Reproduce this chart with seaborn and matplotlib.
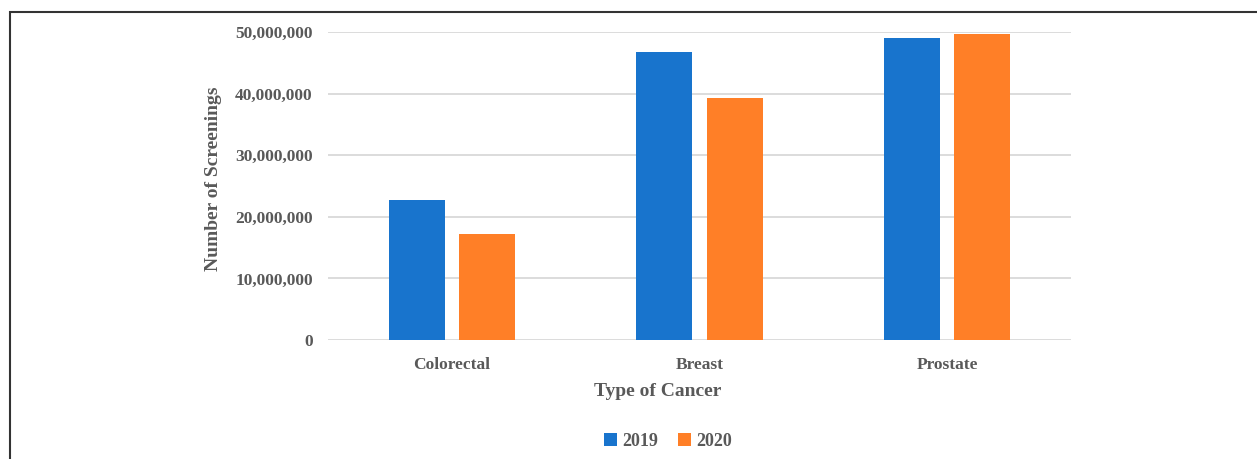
import matplotlib
matplotlib.use("Agg")
import matplotlib.pyplot as plt
import matplotlib.patches as mpatches
import seaborn as sns
import pandas as pd
from matplotlib.ticker import FuncFormatter

categories = ["Colorectal", "Breast", "Prostate"]
years = ["2019", "2020"]
values_2019 = [22.7e6, 46.75e6, 49.0e6]
values_2020 = [17.2e6, 39.3e6, 49.7e6]
colors = ["#1874CD", "#FF7F27"]

df = pd.DataFrame({
    "Type of Cancer": categories * 2,
    "Year": [years[0]] * 3 + [years[1]] * 3,
    "Screenings": values_2019 + values_2020,
})

sns.set_style("white")
plt.rcParams["font.family"] = ["Liberation Serif", "DejaVu Serif"]
plt.rcParams["font.weight"] = "bold"
text_color = "#595959"

fig = plt.figure(figsize=(12.57, 4.59), dpi=100)
ax = fig.add_axes([328 / 1257, 1 - 340 / 459, (1071 - 328) / 1257, (340 - 32) / 459])

sns.barplot(data=df, x="Type of Cancer", y="Screenings", hue="Year",
            palette=colors, width=0.566, gap=0.2, ax=ax, legend=False,
            saturation=1, linewidth=0)

ax.set_xlim(-0.5, 2.5)
ax.set_ylim(0, 50e6)
ax.set_yticks([0, 10e6, 20e6, 30e6, 40e6, 50e6])
ax.yaxis.set_major_formatter(FuncFormatter(lambda v, p: f"{int(v):,}"))
ax.grid(axis="y", color="#d9d9d9", linewidth=1.3)
ax.set_axisbelow(True)
for s in ax.spines.values():
    s.set_visible(False)
ax.tick_params(axis="both", length=0, labelsize=12.5, labelcolor=text_color)
ax.tick_params(axis="y", pad=11)
ax.tick_params(axis="x", pad=12.5)
for lbl in ax.get_xticklabels() + ax.get_yticklabels():
    lbl.set_fontweight("bold")

ax.set_xlabel("Type of Cancer", fontsize=14, fontweight="bold", color=text_color)
ax.set_ylabel("Number of Screenings", fontsize=14, fontweight="bold", color=text_color)
ax.xaxis.set_label_coords((658 - 328) / 743, (340 - 392) / 308)
ax.yaxis.set_label_coords((214 - 328) / 743, (340 - 179) / 308)
ax.xaxis.label.set_verticalalignment("center")
ax.yaxis.label.set_verticalalignment("center")

handles = [mpatches.Patch(facecolor=c, edgecolor="none", label=y) for c, y in zip(colors, years)]
leg = fig.legend(handles=handles, loc="center", bbox_to_anchor=(668 / 1257, 1 - 441 / 459),
                 ncol=2, frameon=False, fontsize=13, handlelength=0.7, handleheight=0.7,
                 handletextpad=0.3, columnspacing=1.1)
for t in leg.get_texts():
    t.set_color(text_color)
    t.set_fontweight("bold")

# partial frame (top and left edges visible)
border = mpatches.Rectangle((9.5 / 1257, -0.5), 2, 1.5 - 11.5 / 459, transform=fig.transFigure,
                            fill=False, edgecolor="#333333", linewidth=1.5, clip_on=False)
fig.patches.append(border)

fig.savefig("out.png", dpi=100)
